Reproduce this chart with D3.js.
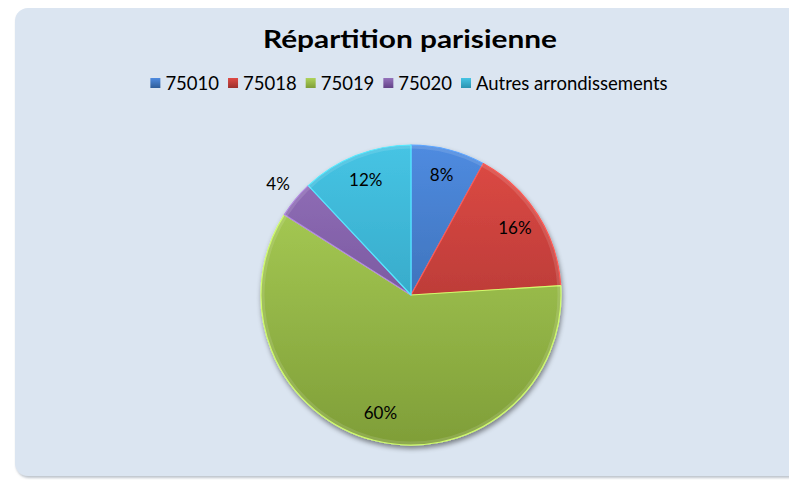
<!DOCTYPE html>
<html>
<head>
<meta charset="utf-8">
<script src="https://cdn.jsdelivr.net/npm/d3@7"></script>
<style>
  body { margin: 0; background: #ffffff; }
  svg { display: block; }
</style>
</head>
<body>
<div id="box"></div>
<script>
// data
const categories = ['75010', '75018', '75019', '75020', 'Autres arrondissements']
const values = [8, 16, 60, 4, 12]
const colorsTop = ['#4f8be0', '#df4a45', '#aed35a', '#9472bb', '#46c4e4']
const colorsBottom = ['#2f5d99', '#9c302c', '#7f9e38', '#634288', '#2a93b1']
const title = 'Répartition parisienne'

const width = 789
const height = 481
const cx = 411, cy = 295, radius = 150

const svg = d3.select('#box').append('svg')
  .attr('width', width)
  .attr('height', height)

const defs = svg.append('defs')

const shadow = defs.append('filter').attr('id', 'shadow')
  .attr('x', '-20%').attr('y', '-20%').attr('width', '140%').attr('height', '140%')
shadow.append('feDropShadow')
  .attr('dx', 1).attr('dy', 3).attr('stdDeviation', 2.5)
  .attr('flood-color', '#000').attr('flood-opacity', 0.45)

const boxShadow = defs.append('filter').attr('id', 'boxShadow')
  .attr('x', '-5%').attr('y', '-5%').attr('width', '110%').attr('height', '110%')
boxShadow.append('feDropShadow')
  .attr('dx', 1).attr('dy', 2).attr('stdDeviation', 1)
  .attr('flood-color', '#7f8a99').attr('flood-opacity', 0.5)

categories.forEach((c, i) => {
  // pie group is translated, so the gradient runs from -radius to +radius
  const g = defs.append('linearGradient').attr('id', 'grad' + i)
    .attr('gradientUnits', 'userSpaceOnUse')
    .attr('x1', 0).attr('y1', -radius).attr('x2', 0).attr('y2', radius)
  g.append('stop').attr('offset', '0%').attr('stop-color', colorsTop[i])
  g.append('stop').attr('offset', '100%').attr('stop-color', colorsBottom[i])

  const lg = defs.append('linearGradient').attr('id', 'lgrad' + i)
    .attr('x1', 0).attr('y1', 0).attr('x2', 0).attr('y2', 1)
  lg.append('stop').attr('offset', '0%').attr('stop-color', colorsTop[i])
  lg.append('stop').attr('offset', '100%').attr('stop-color', colorsBottom[i])
})

// chart area
svg.append('rect')
  .attr('x', 15).attr('y', 8)
  .attr('width', width + 20).attr('height', 468)
  .attr('rx', 13).attr('ry', 13)
  .attr('fill', '#dbe5f1')
  .attr('filter', 'url(#boxShadow)')

// title
svg.append('text')
  .text(title)
  .attr('x', 410)
  .attr('y', 48)
  .attr('text-anchor', 'middle')
  .attr('textLength', 294)
  .attr('lengthAdjust', 'spacingAndGlyphs')
  .style('font-family', 'Lato, "Open Sans", sans-serif')
  .style('font-weight', 'bold')
  .style('font-size', '24px')
  .attr('fill', '#000')

// legend
const legend = svg.append('g').attr('class', 'legend')
const legendFont = '18.5px Lato, "Open Sans", sans-serif'
let lx = 0
categories.forEach((c, i) => {
  const item = legend.append('g')
  item.append('rect')
    .attr('x', 0).attr('y', -12)
    .attr('width', 10).attr('height', 10)
    .attr('fill', `url(#lgrad${i})`)
  const t = item.append('text')
    .text(c)
    .attr('x', 15)
    .attr('y', 0)
    .style('font', legendFont)
    .attr('fill', '#000')
  const w = 15 + t.node().getComputedTextLength()
  item.attr('transform', `translate(${lx},0)`)
  lx += w + 9
})
const legendWidth = lx - 9
legend.attr('transform', `translate(${409 - legendWidth / 2}, 90)`)

// pie
const pie = d3.pie().sort(null).value(d => d)
const arcs = pie(values)
const arc = d3.arc().innerRadius(0).outerRadius(radius)
const labelArc = d3.arc().innerRadius(radius * 0.82).outerRadius(radius * 0.82)
const outerLabelArc = d3.arc().innerRadius(radius * 1.15).outerRadius(radius * 1.15)

const pieG = svg.append('g')
  .attr('transform', `translate(${cx},${cy})`)

pieG.append('g')
  .attr('filter', 'url(#shadow)')
  .selectAll('path')
  .data(arcs)
  .enter()
  .append('path')
  .attr('d', arc)
  .attr('fill', (d, i) => `url(#grad${i})`)
  .attr('stroke', (d, i) => d3.color(colorsTop[i]).brighter(0.5))
  .attr('stroke-width', 1.2)
  .attr('stroke-linejoin', 'round')

// soft bevel highlight on the rim
pieG.append('circle')
  .attr('r', radius - 2)
  .attr('fill', 'none')
  .attr('stroke', 'rgba(255,255,255,0.12)')
  .attr('stroke-width', 3)

pieG.selectAll('text.label')
  .data(arcs)
  .enter()
  .append('text')
  .attr('class', 'label')
  .text(d => d.data + '%')
  .attr('transform', d => {
    const p = (d.data < 5 ? outerLabelArc : labelArc).centroid(d)
    return `translate(${p[0]},${p[1]})`
  })
  .attr('text-anchor', 'middle')
  .attr('dy', '0.3em')
  .style('font', '17px Lato, "Open Sans", sans-serif')
  .attr('fill', '#000')
</script>
</body>
</html>
